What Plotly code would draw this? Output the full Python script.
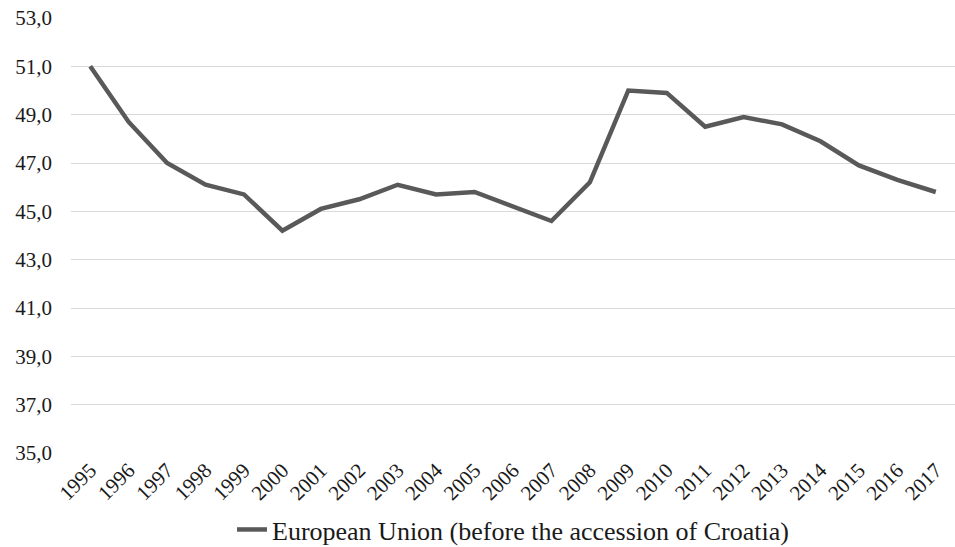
import plotly.graph_objects as go

years = [str(y) for y in range(1995, 2018)]
values = [51.0, 48.7, 47.0, 46.1, 45.7, 44.2, 45.1, 45.5, 46.1, 45.7, 45.8, 45.2,
          44.6, 46.2, 50.0, 49.9, 48.5, 48.9, 48.6, 47.9, 46.9, 46.3, 45.8]
series_name = "European Union (before the accession of Croatia)"

SERIF = "Liberation Serif"

fig = go.Figure()
fig.add_trace(go.Scatter(
    x=years, y=values, mode="lines", name=series_name,
    line=dict(color="#595959", width=4.5),
    showlegend=True,
))

fig.update_layout(
    width=955, height=547,
    margin=dict(l=71, r=0, t=18, b=94, autoexpand=False),
    paper_bgcolor="white", plot_bgcolor="white",
    separators=", ",
    font=dict(family=SERIF, size=21, color="#1a1a1a"),
    showlegend=True,
    legend=dict(orientation="h", x=0.5, xanchor="center", y=-0.176, yanchor="middle",
                font=dict(family=SERIF, size=26, color="#1a1a1a"),
                bgcolor="rgba(0,0,0,0)"),
    xaxis=dict(type="category", range=[-0.5, 22.5], tickangle=-45, automargin=False,
               showgrid=False, showline=False, ticks="", zeroline=False,
               tickfont=dict(family=SERIF, size=21)),
    yaxis=dict(range=[35, 53], dtick=2, tick0=35, tickformat=".1f", automargin=False,
               showgrid=True, gridcolor="#d9d9d9", gridwidth=1.3,
               zeroline=False, showline=False, ticks="", ticklabelstandoff=18,
               tickfont=dict(family=SERIF, size=21)),
)

fig.write_html("out.html")
